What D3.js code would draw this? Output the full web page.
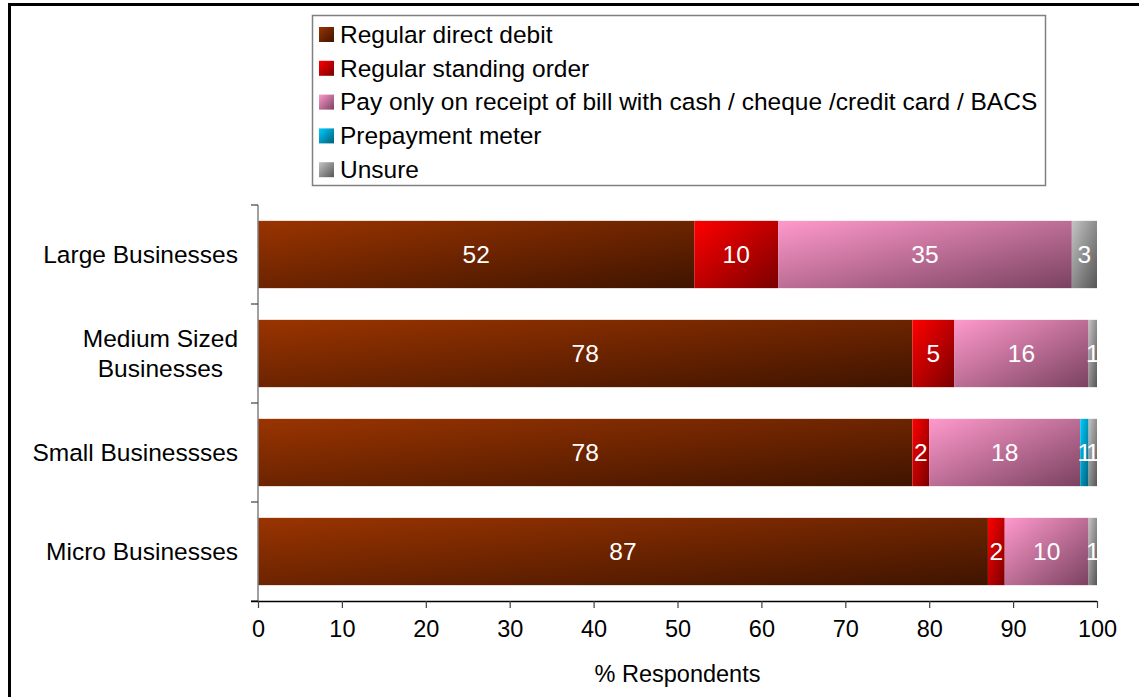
<!DOCTYPE html>
<html>
<head>
<meta charset="utf-8">
<script src="https://cdn.jsdelivr.net/npm/d3@7"></script>
<style>
  html, body { margin: 0; padding: 0; background: #fff; }
  svg { display: block; font-family: "Liberation Sans", Arial, sans-serif; }
</style>
</head>
<body>
<svg id="chart" width="1139" height="697"></svg>
<script>
// Business size groups, top to bottom
const categories = ["Large Businesses", "Medium Sized Businesses", "Small Businessses", "Micro Businesses"];
const categoryLines = [["Large Businesses"], ["Medium Sized", "Businesses"], ["Small Businessses"], ["Micro Businesses"]];

// Payment methods (series)
const seriesNames = [
  "Regular direct debit",
  "Regular standing order",
  "Pay only on receipt of bill with cash / cheque /credit card / BACS",
  "Prepayment meter",
  "Unsure"
];

// Percentage of respondents per category, one array per series
const directDebit    = [52, 78, 78, 87];
const standingOrder  = [10, 5, 2, 2];
const payOnReceipt   = [35, 16, 18, 10];
const prepayment     = [0, 0, 1, 0];
const unsure         = [3, 1, 1, 1];

const xTicks = [0, 10, 20, 30, 40, 50, 60, 70, 80, 90, 100];
const xTitle = "% Respondents";

// Gradient end colours for each series (light top-left -> dark bottom-right)
const gradStops = [
  ["#9a3400", "#3f1400"],
  ["#ff0000", "#7a0000"],
  ["#ff99cc", "#7a4260"],
  ["#00ccff", "#005f7a"],
  ["#c4c4c4", "#555555"]
];

const seriesValues = [directDebit, standingOrder, payOnReceipt, prepayment, unsure];

const svg = d3.select("#chart");
const defs = svg.append("defs");
gradStops.forEach((c, i) => {
  const g = defs.append("linearGradient")
    .attr("id", "grad" + i)
    .attr("x1", 0).attr("y1", 0).attr("x2", 1).attr("y2", 1);
  g.append("stop").attr("offset", "0%").attr("stop-color", c[0]);
  g.append("stop").attr("offset", "100%").attr("stop-color", c[1]);
});

// Outer frame (top and left edges)
svg.append("path")
  .attr("d", "M9.5,1139 V4.5 H1139")
  .attr("fill", "none").attr("stroke", "#000").attr("stroke-width", 3);

const fontSize = 24.5;
const tickFontSize = 23.5;

// Scales
const x = d3.scaleLinear().domain([0, 100]).range([258, 1097]);
const y = d3.scaleBand().domain(categories).range([205, 601]).paddingInner(0.32).paddingOuter(0.16);

// Stack data
const rows = categories.map((c, i) => {
  const r = { category: c };
  seriesNames.forEach((s, j) => { r[s] = seriesValues[j][i]; });
  return r;
});
const stacked = d3.stack().keys(seriesNames)(rows);

const plot = svg.append("g");
stacked.forEach((layer, j) => {
  const g = plot.append("g");
  layer.forEach(d => {
    const v = d[1] - d[0];
    if (v <= 0) return;
    g.append("rect")
      .attr("x", x(d[0]))
      .attr("y", y(d.data.category))
      .attr("width", x(d[1]) - x(d[0]))
      .attr("height", y.bandwidth())
      .attr("fill", `url(#grad${j})`);
  });
});

// Value labels
stacked.forEach((layer, j) => {
  layer.forEach(d => {
    const v = d[1] - d[0];
    if (v <= 0) return;
    plot.append("text")
      .attr("x", (x(d[0]) + x(d[1])) / 2)
      .attr("y", y(d.data.category) + y.bandwidth() / 2)
      .attr("dy", "0.36em")
      .attr("text-anchor", "middle")
      .attr("font-size", fontSize)
      .attr("fill", "#fff")
      .text(v);
  });
});

// Y axis: line and category ticks between bands
const yAxisG = svg.append("g");
yAxisG.append("line")
  .attr("x1", 258).attr("x2", 258).attr("y1", 205).attr("y2", 601)
  .attr("stroke", "#808080").attr("stroke-width", 1.5);
d3.range(categories.length + 1).forEach(i => {
  const yy = 205 + i * (396 / categories.length);
  yAxisG.append("line")
    .attr("x1", 251).attr("x2", 258).attr("y1", yy).attr("y2", yy)
    .attr("stroke", "#404040").attr("stroke-width", 1.2);
});
categories.forEach((c, i) => {
  const lines = categoryLines[i];
  const cy = y(c) + y.bandwidth() / 2;
  const lh = 30;
  const t = yAxisG.append("text")
    .attr("text-anchor", "middle")
    .attr("font-size", fontSize)
    .attr("fill", "#000");
  lines.forEach((ln, k) => {
    t.append("tspan")
      .attr("x", 0)
      .attr("y", cy + (k - (lines.length - 1) / 2) * lh)
      .attr("dy", "0.36em")
      .text(ln);
  });
  // right-align the block at x=238 while centring lines within it
  const bb = t.node().getBBox();
  t.attr("transform", `translate(${238 - bb.width / 2},0)`);
});

// X axis
const xAxis = d3.axisBottom(x).tickValues(xTicks).tickSize(7).tickPadding(12);
const xg = svg.append("g").attr("transform", "translate(0,601)").call(xAxis);
xg.select(".domain").attr("stroke", "#000").attr("stroke-width", 1.5).attr("d", "M251,0.5H1097");
xg.selectAll(".tick line").attr("stroke", "#404040").attr("stroke-width", 1.2);
xg.selectAll(".tick text")
  .attr("font-size", tickFontSize)
  .attr("font-family", "'Liberation Sans', Arial, sans-serif")
  .attr("fill", "#000");

svg.append("text")
  .attr("x", x(50))
  .attr("y", 682)
  .attr("text-anchor", "middle")
  .attr("font-size", tickFontSize)
  .attr("fill", "#000")
  .text(xTitle);

// Legend
const legend = svg.append("g");
legend.append("rect")
  .attr("x", 312.5).attr("y", 15.5).attr("width", 733).attr("height", 170)
  .attr("fill", "#fff").attr("stroke", "#808080").attr("stroke-width", 1.5);
seriesNames.forEach((s, i) => {
  const cy = 34 + i * 33.8;
  legend.append("rect")
    .attr("x", 319).attr("y", cy - 7).attr("width", 15).attr("height", 15)
    .attr("fill", `url(#grad${i})`);
  legend.append("text")
    .attr("x", 340).attr("y", cy)
    .attr("dy", "0.36em")
    .attr("font-size", fontSize)
    .attr("fill", "#000")
    .text(s);
});
</script>
</body>
</html>
